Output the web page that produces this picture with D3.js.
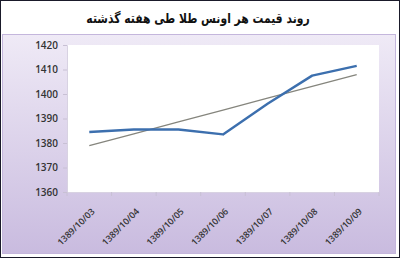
<!DOCTYPE html>
<html>
<head>
<meta charset="utf-8">
<script src="https://cdn.jsdelivr.net/npm/d3@7"></script>
<style>
  html, body { margin: 0; padding: 0; background: #fff; }
  svg { display: block; }
</style>
</head>
<body>
<svg id="chart" width="400" height="258"></svg>
<script>
// Gold price per ounce over the past week
const title = "روند قیمت هر اونس طلا طی هفته گذشته";
const dates = ["1389/10/03", "1389/10/04", "1389/10/05", "1389/10/06", "1389/10/07", "1389/10/08", "1389/10/09"];
const prices = [1384.5, 1385.5, 1385.5, 1383.5, 1396, 1407.5, 1411.5];
const yTicks = [1360, 1370, 1380, 1390, 1400, 1410, 1420];

const svg = d3.select("#chart");
const W = 400, H = 258;

// gradient for the chart panel
const defs = svg.append("defs");
const grad = defs.append("linearGradient").attr("id", "panelGrad")
  .attr("x1", 0).attr("y1", 0).attr("x2", 0).attr("y2", 1);
grad.append("stop").attr("offset", "0%").attr("stop-color", "#efeaf6");
grad.append("stop").attr("offset", "100%").attr("stop-color", "#c9bbdf");

// outer frame
svg.append("rect").attr("x", 0.5).attr("y", 0.5).attr("width", W - 1).attr("height", H - 1)
  .attr("fill", "#fff").attr("stroke", "#1a1a2a").attr("stroke-width", 1);

// title (condensed horizontally)
svg.append("text")
  .attr("transform", "translate(198,23) scale(0.8,1)")
  .attr("text-anchor", "middle")
  .attr("direction", "rtl")
  .style("font-family", "DejaVu Sans, sans-serif")
  .style("font-weight", "bold")
  .style("font-size", "13.5px")
  .attr("fill", "#111")
  .text(title);

// chart panel
svg.append("rect").attr("x", 2.5).attr("y", 34.5).attr("width", 393).attr("height", 219)
  .attr("fill", "url(#panelGrad)").attr("stroke", "#c4b6dc").attr("stroke-width", 1);

const plot = { left: 67, right: 379, top: 45, bottom: 192 };

const x = d3.scaleBand().domain(dates).range([plot.left, plot.right]);
const y = d3.scaleLinear().domain([1360, 1420]).range([plot.bottom, plot.top]);

// plot area
svg.append("rect").attr("x", plot.left).attr("y", plot.top)
  .attr("width", plot.right - plot.left).attr("height", plot.bottom - plot.top)
  .attr("fill", "#fff");

// y axis
const yAxis = svg.append("g").attr("transform", `translate(${plot.left},0)`)
  .call(d3.axisLeft(y).tickValues(yTicks).tickSize(4).tickPadding(5).tickFormat(d3.format("d")));
yAxis.select(".domain").attr("stroke", "#d8d2e2");
yAxis.selectAll(".tick line").attr("stroke", "#c8c0d4");
yAxis.selectAll("text")
  .style("font-family", "Open Sans, sans-serif")
  .style("font-size", "10px")
  .style("font-weight", "600")
  .attr("fill", "#333");

// x axis with ticks at category boundaries
const xAxis = svg.append("g").attr("transform", `translate(0,${plot.bottom})`)
  .call(d3.axisBottom(x).tickSize(0).tickPadding(0));
xAxis.select(".domain").attr("stroke", "#d8d2e2");
const bounds = dates.map(d => x(d)).concat([plot.right]);
xAxis.selectAll(".boundary").data(bounds).enter().append("line")
  .attr("x1", d => d).attr("x2", d => d).attr("y1", 0).attr("y2", 4)
  .attr("stroke", "#c8c0d4");
xAxis.selectAll(".tick text")
  .style("font-family", "Open Sans, sans-serif")
  .style("font-size", "9px")
  .style("font-weight", "600")
  .attr("fill", "#333")
  .attr("text-anchor", "end")
  .attr("dy", 0)
  .attr("transform", "translate(6,20) rotate(-45)");

// least-squares trend line over the price series
const n = prices.length;
const xs = d3.range(n);
const mx = d3.mean(xs), my = d3.mean(prices);
const slope = d3.sum(xs, i => (i - mx) * (prices[i] - my)) / d3.sum(xs, i => (i - mx) ** 2);
const intercept = my - slope * mx;
const trend = xs.map(i => intercept + slope * i);

const cx = d => x(d) + x.bandwidth() / 2;
const line = d3.line().x((v, i) => cx(dates[i])).y(v => y(v));

svg.append("path").datum(trend).attr("d", line)
  .attr("fill", "none").attr("stroke", "#85857d").attr("stroke-width", 1.3);

svg.append("path").datum(prices).attr("d", line)
  .attr("fill", "none").attr("stroke", "#3c6fae").attr("stroke-width", 2.4)
  .attr("stroke-linejoin", "round");
</script>
</body>
</html>
